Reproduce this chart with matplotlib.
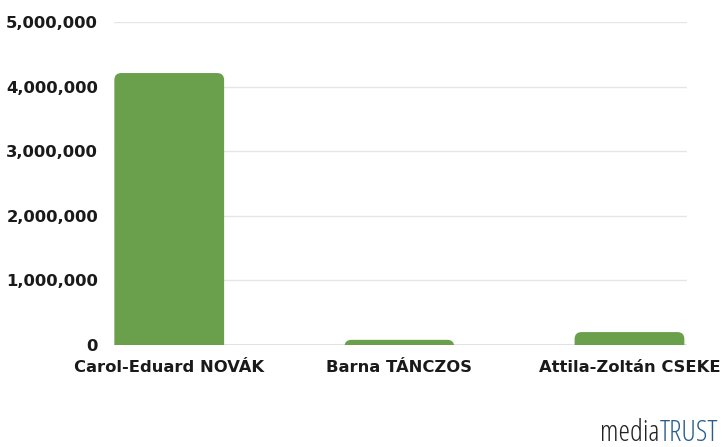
import matplotlib
matplotlib.use("Agg")
import matplotlib.pyplot as plt
from matplotlib.patches import FancyBboxPatch
from matplotlib.ticker import FuncFormatter
from matplotlib import font_manager as fm

categories = ["Carol-Eduard NOVÁK", "Barna TÁNCZOS", "Attila-Zoltán CSEKE"]
values = [4210000, 80000, 200000]
yticks = [0, 1000000, 2000000, 3000000, 4000000, 5000000]

bold = fm.FontProperties(family="DejaVu Sans", weight="bold", size=11.8)

W, H = 723, 447
fig = plt.figure(figsize=(W / 100, H / 100), dpi=100)
fig.patch.set_facecolor("white")
L, R, T, B = 114, 687, 22, 345
ax = fig.add_axes([L / W, 1 - B / H, (R - L) / W, (B - T) / H])

xlim = (-0.24, 2.25)
ylim = (0, 5000000)
ax.set_xlim(*xlim)
ax.set_ylim(*ylim)

green = "#6a9f4b"
bw = 0.477
bars = ax.bar(range(len(categories)), values, width=bw, color=green, alpha=0)

# rounded top corners
px_per_x = (R - L) / (xlim[1] - xlim[0])
px_per_y = (B - T) / (ylim[1] - ylim[0])
aspect = px_per_x / px_per_y
rad = 7 / px_per_x
for b in bars:
    x0, w, h = b.get_x(), b.get_width(), b.get_height()
    ext = 20 / px_per_y
    p = FancyBboxPatch((x0, -ext), w, h + ext,
                       boxstyle=f"round,pad=0,rounding_size={rad}",
                       mutation_aspect=aspect, facecolor=green,
                       edgecolor="none", zorder=3, clip_on=True)
    ax.add_patch(p)

ax.set_yticks(yticks)
ax.yaxis.set_major_formatter(FuncFormatter(lambda v, p: f"{int(v):,}"))
ax.set_xticks(range(len(categories)))
ax.set_xticklabels(categories)
for lab in ax.get_xticklabels() + ax.get_yticklabels():
    lab.set_fontproperties(bold)
    lab.set_color("#1a1a1a")
ax.tick_params(axis="y", length=0, pad=11.5)
ax.tick_params(axis="x", length=0, pad=11)
ax.grid(axis="y", color="#e6e6e6", linewidth=1)
ax.set_axisbelow(True)
for s in ax.spines.values():
    s.set_visible(False)
ax.axhline(0, color="#dddddd", linewidth=1.2, zorder=2)

# logo
fig.canvas.draw()
r = fig.canvas.get_renderer()
t2 = fig.text(718 / W, 1 - 441 / H, "TRUST", ha="right", va="baseline",
              fontsize=21, color="#2b5d8c", fontfamily="Open Sans",
              fontstretch="condensed")
bb = t2.get_window_extent(r)
fig.text(bb.x0 / W, 1 - 441 / H, "media", ha="right", va="baseline",
         fontsize=21, color="#222222", fontfamily="Open Sans",
         fontstretch="condensed")

fig.savefig("out.png", dpi=100)
